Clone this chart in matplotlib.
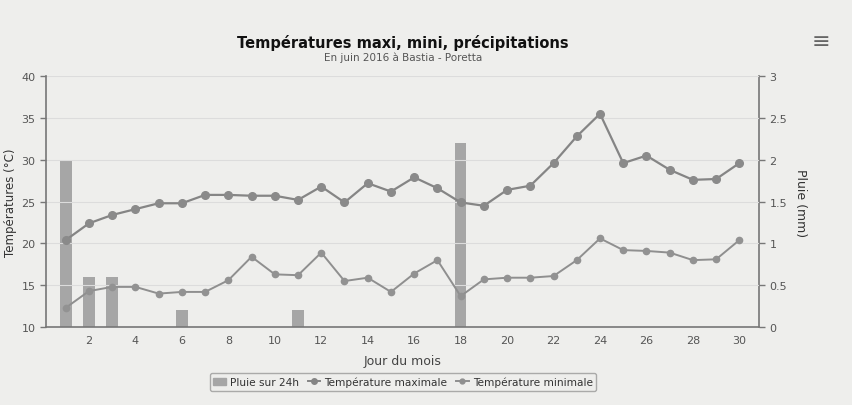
import matplotlib
matplotlib.use("Agg")
from matplotlib import pyplot as plt
from matplotlib.lines import Line2D
from matplotlib.patches import Patch

# jour du mois
jours = list(range(1, 31))
# températures maximales (°C)
t_max = [20.4, 22.4, 23.4, 24.1, 24.8, 24.8, 25.8, 25.8, 25.7, 25.7,
         25.2, 26.8, 24.9, 27.2, 26.2, 27.9, 26.6, 24.9, 24.5, 26.4,
         26.9, 29.6, 32.8, 35.5, 29.6, 30.5, 28.8, 27.6, 27.7, 29.6]
# températures minimales (°C)
t_min = [12.3, 14.3, 14.8, 14.8, 14.0, 14.2, 14.2, 15.6, 18.4, 16.3,
         16.2, 18.9, 15.5, 15.9, 14.2, 16.4, 18.0, 13.7, 15.7, 15.9,
         15.9, 16.1, 18.0, 20.6, 19.2, 19.1, 18.9, 18.0, 18.1, 20.4]
# pluie sur 24h (mm)
pluie_jours = [1, 2, 3, 6, 11, 18]
pluie = [2.0, 0.6, 0.6, 0.2, 0.2, 2.2]

x_ticks = list(range(2, 31, 2))
y_ticks = [10, 15, 20, 25, 30, 35, 40]
y2_ticks = [0, 0.5, 1, 1.5, 2, 2.5, 3]
y2_labels = ["0", "0.5", "1", "1.5", "2", "2.5", "3"]

plt.rcParams["font.family"] = ["DejaVu Sans"]
txt = "#555555"
axc = "#777777"

fig = plt.figure(figsize=(8.52, 4.06), dpi=100, facecolor="#eeeeec")
ax = fig.add_axes([0.054, 0.192, 0.837, 0.618])
ax.set_facecolor("#eeeeec")
ax2 = ax.twinx()

# barres de pluie (axe de droite)
ax2.bar(pluie_jours, pluie, width=0.5, color="#a6a6a6", zorder=1)
ax2.set_ylim(0, 3)
ax2.set_yticks(y2_ticks)
ax2.set_yticklabels(y2_labels)
ax2.set_ylabel("Pluie (mm)", rotation=270, labelpad=14, fontsize=9, color="#333333")

# courbes de température (axe de gauche, au-dessus des barres)
ax.set_zorder(ax2.get_zorder() + 1)
ax.patch.set_visible(False)

ax.plot(jours, t_max, color="#858585", lw=1.6, marker="o", ms=5.5,
        mfc="#8a8a8a", mec="#8a8a8a")
ax.plot(jours, t_min, color="#8f8f8f", lw=1.4, marker="o", ms=4.5,
        mfc="#929292", mec="#929292")
ax.set_ylim(10, 40)
ax.set_yticks(y_ticks)
ax.set_xlim(0.15, 30.85)
ax.set_xticks(x_ticks)
ax.set_ylabel("Températures (°C)", fontsize=8.5, color="#333333", labelpad=3)
ax.set_xlabel("Jour du mois", fontsize=9, color="#444444", labelpad=6)

for g in y_ticks[1:]:
    ax.axhline(g, color="#dcdcdc", lw=0.8, zorder=0)

for a in (ax, ax2):
    a.tick_params(labelsize=8, colors=txt, length=4, width=1)
    for s in a.spines.values():
        s.set_visible(False)
ax.tick_params(axis="y", colors=axc, labelcolor=txt)
ax.tick_params(axis="x", length=0, pad=6)
ax2.tick_params(axis="y", colors=axc, labelcolor=txt)
for a, side in ((ax, "left"), (ax, "bottom"), (ax2, "right")):
    a.spines[side].set_visible(True)
    a.spines[side].set_color(axc)
    a.spines[side].set_linewidth(1.2)

fig.text(0.473, 0.883, "Températures maxi, mini, précipitations",
         ha="center", fontsize=10.5, fontweight="bold", color="#111111")
fig.text(0.473, 0.85, "En juin 2016 à Bastia - Poretta",
         ha="center", fontsize=7.5, color="#555555")
fig.text(0.963, 0.897, "\u2261", ha="center", va="center", fontsize=16, color="#666666")

handles = [
    Patch(color="#a6a6a6"),
    Line2D([], [], color="#858585", lw=1.4, marker="o", ms=4),
    Line2D([], [], color="#8f8f8f", lw=1.4, marker="o", ms=3.5),
]
labels = ["Pluie sur 24h", "Température maximale", "Température minimale"]
leg = fig.legend(handles, labels, loc="center", bbox_to_anchor=(0.473, 0.057),
                 ncol=3, fontsize=7.6, frameon=True, handlelength=1.2,
                 handletextpad=0.4, columnspacing=0.8, borderpad=0.35,
                 fancybox=True)
leg.get_frame().set_edgecolor("#999999")
leg.get_frame().set_facecolor("#eeeeec")
for t in leg.get_texts():
    t.set_color("#333333")

fig.savefig("out.png", dpi=100, facecolor=fig.get_facecolor())
